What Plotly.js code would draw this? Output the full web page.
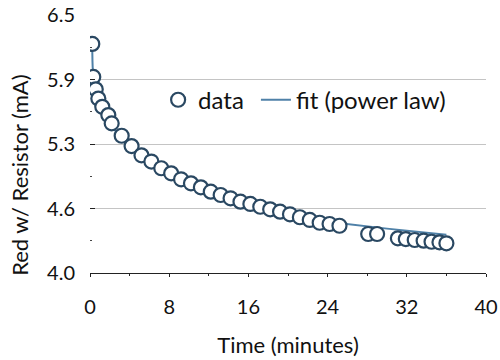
<!DOCTYPE html>
<html>
<head>
<meta charset="utf-8">
<script src="https://cdn.plot.ly/plotly-3.0.1.min.js"></script>
<style>html,body{margin:0;padding:0;background:#fff;}#chart{width:500px;height:360px;}</style>
</head>
<body>
<div id="chart"></div>
<script>
// Measured data (time in minutes, current in mA)
const dataTime = [0.23, 0.33, 0.58, 0.84, 1.24, 1.85, 2.19, 3.2, 4.2, 5.2, 6.2, 7.2, 8.2, 9.2, 10.2, 11.2, 12.2, 13.2, 14.2, 15.2, 16.2, 17.2, 18.2, 19.2, 20.2, 21.2, 22.2, 23.2, 24.2, 25.2, 28.1, 29.0, 31.1, 31.9, 32.8, 33.7, 34.5, 35.3, 36.0];
const dataCurrent = [6.22, 5.90, 5.78, 5.69, 5.61, 5.53, 5.45, 5.33, 5.23, 5.14, 5.08, 5.015, 4.966, 4.908, 4.869, 4.830, 4.788, 4.756, 4.724, 4.691, 4.669, 4.642, 4.617, 4.594, 4.569, 4.540, 4.514, 4.487, 4.475, 4.458, 4.378, 4.378, 4.336, 4.329, 4.320, 4.313, 4.303, 4.297, 4.288];

// Fit curve
const fitTime = [0.23, 0.3, 0.5, 1, 2, 3, 4, 6, 8, 10, 12, 14, 16, 18, 20, 22, 25.5, 30, 36];
const fitCurrent = [6.22, 5.95, 5.82, 5.64, 5.45, 5.33, 5.23, 5.06, 4.94, 4.85, 4.77, 4.70, 4.645, 4.60, 4.555, 4.52, 4.48, 4.43, 4.37];

const yTickVals = [4.0, 4.625, 5.25, 5.875, 6.5];
const yTickText = ['4.0', '4.6', '5.3', '5.9', '6.5'];
const xTickVals = [0, 8, 16, 24, 32, 40];
const yTitle = 'Red w/ Resistor (mA)';
const xTitle = 'Time (minutes)';

const font = 'Lato, "Open Sans", sans-serif';

const traces = [
  {
    x: fitTime, y: fitCurrent, type: 'scatter', mode: 'lines', name: 'fit (power law)',
    line: {color: '#4f81a8', width: 2, shape: 'spline'}, legend: 'legend2'
  },
  {
    x: dataTime, y: dataCurrent, type: 'scatter', mode: 'markers', name: 'data',
    marker: {symbol: 'circle', size: 14, color: '#ffffff', line: {color: '#2a4862', width: 2.2}},
    legend: 'legend'
  }
];

const legendStyle = {
  orientation: 'h', xanchor: 'left', y: 0.67, yanchor: 'middle',
  bgcolor: 'rgba(0,0,0,0)', font: {size: 24, color: '#111'}, itemwidth: 30
};

const layout = {
  width: 500, height: 360,
  margin: {l: 90, r: 14, t: 15, b: 87},
  paper_bgcolor: '#fff', plot_bgcolor: '#fff',
  font: {family: font, size: 20, color: '#111'},
  showlegend: true,
  legend: Object.assign({}, legendStyle, {x: 0.172}),
  legend2: Object.assign({}, legendStyle, {x: 0.419}),
  xaxis: {
    range: [0, 40], tickvals: xTickVals, ticktext: xTickVals.map(String),
    showgrid: false, zeroline: false, showline: true, linecolor: '#222', linewidth: 1,
    ticks: 'outside', ticklen: 3, tickcolor: '#222',
    minor: {tickvals: [4, 12, 20, 28, 36], ticks: 'outside', ticklen: 2, tickcolor: '#222'},
    tickfont: {size: 20, color: '#111'},
    ticklabelstandoff: 13,
    title: {text: xTitle, font: {size: 22, color: '#111'}, standoff: 20}
  },
  yaxis: {
    range: [4.0, 6.5], tickvals: yTickVals, ticktext: yTickText,
    showgrid: true, gridcolor: '#c4c4c4', gridwidth: 1,
    zeroline: false, showline: false,
    ticks: 'inside', ticklen: 5, tickcolor: '#222',
    minor: {tickvals: [4.3125, 4.9375, 5.5625, 6.1875], ticks: 'inside', ticklen: 2, tickcolor: '#444', showgrid: false},
    tickfont: {size: 20, color: '#111'},
    ticklabelstandoff: 14
  },
  annotations: [{
    text: yTitle, xref: 'paper', yref: 'paper', x: -0.177, y: 0.38,
    xanchor: 'center', yanchor: 'middle', textangle: -90, showarrow: false,
    font: {size: 22, color: '#111'}
  }]
};

Plotly.newPlot('chart', traces, layout, {displayModeBar: false, staticPlot: true});
</script>
</body>
</html>
